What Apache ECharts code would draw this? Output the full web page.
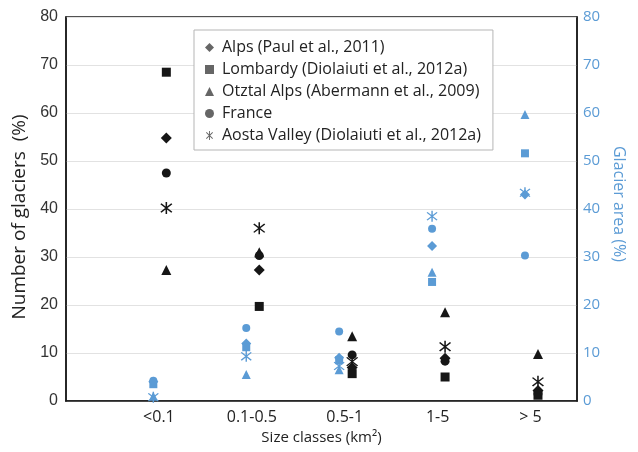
<!DOCTYPE html>
<html>
<head>
<meta charset="utf-8">
<script src="https://cdn.jsdelivr.net/npm/echarts@6/dist/echarts.min.js"></script>
<style>
  html, body { margin: 0; padding: 0; background: #fff; }
  #chart { width: 638px; height: 452px; }
</style>
</head>
<body>
<div id="chart"></div>
<script>
// Size classes (km²)
const categories = ['<0.1', '0.1-0.5', '0.5-1', '1-5', '> 5'];

// Number of glaciers (%) per size class
const alpsCount     = [54.8, 27.3, 7.0, 8.9, 2.2];
const lombardyCount = [68.5, 19.7, 5.7, 5.0, 1.2];
const otztalCount   = [27.3, 31.0, 13.5, 18.5, 9.8];
const franceCount   = [47.5, 30.3, 9.6, 8.3, 1.5];
const aostaCount    = [40.2, 36.0, 8.2, 11.3, 4.0];

// Glacier area (%) per size class
const alpsArea     = [4.0, 12.0, 9.0, 32.3, 43.0];
const lombardyArea = [3.5, 11.2, 8.5, 24.8, 51.6];
const otztalArea   = [1.0, 5.5, 6.5, 26.8, 59.7];
const franceArea   = [4.2, 15.2, 14.5, 35.9, 30.3];
const aostaArea    = [0.8, 9.3, 7.3, 38.5, 43.4];

const legendNames = [
  'Alps (Paul et al., 2011)',
  'Lombardy (Diolaiuti et al., 2012a)',
  'Otztal Alps (Abermann et al., 2009)',
  'France',
  'Aosta Valley (Diolaiuti et al., 2012a)'
];

// six-armed asterisk drawn as three filled bars
const asterisk = 'path://M-1,-10L1,-10L1,10L-1,10Z' +
  'M6.36,7.78L-7.78,-6.36L-6.36,-7.78L7.78,6.36Z' +
  'M7.78,-6.36L-6.36,7.78L-7.78,6.36L6.36,-7.78Z';

const symbols = ['diamond', 'rect', 'triangle', 'circle', asterisk];
const symbolSizes = [11, 9, 10, 9, 12];

const countSets = [alpsCount, lombardyCount, otztalCount, franceCount, aostaCount];
const areaSets = [alpsArea, lombardyArea, otztalArea, franceArea, aostaArea];

const BLACK = '#161616';
const BLUE = '#5b9bd5';
const countShift = 0.08;
const areaShift = -0.06;

function points(values, shift) {
  return values.map((v, i) => [i + 1 + shift, v]);
}

const series = [];
areaSets.forEach((vals, k) => {
  series.push({
    name: legendNames[k] + ' · area',
    type: 'scatter',
    yAxisIndex: 1,
    symbol: symbols[k],
    symbolSize: symbolSizes[k] - 1,
    itemStyle: { color: BLUE, opacity: 1 },
    data: points(vals, areaShift),
    z: 2
  });
});
countSets.forEach((vals, k) => {
  series.push({
    name: legendNames[k],
    type: 'scatter',
    yAxisIndex: 0,
    symbol: symbols[k],
    symbolSize: symbolSizes[k],
    itemStyle: { color: BLACK, opacity: 1 },
    data: points(vals, countShift),
    z: 3
  });
});

const chart = echarts.init(document.getElementById('chart'), null, { renderer: 'canvas' });
chart.setOption({
  animation: false,
  backgroundColor: '#fff',
  grid: {
    left: 66, right: 61, top: 17, bottom: 51,
    show: true, borderColor: '#1a1a1a', borderWidth: 1.5
  },
  legend: {
    data: legendNames,
    orient: 'vertical',
    left: 194, top: 30,
    padding: [9, 12, 6, 11],
    itemGap: 5,
    itemWidth: 9, itemHeight: 9,
    backgroundColor: '#fff',
    borderColor: '#b5b5b5', borderWidth: 1,
    itemStyle: { color: '#666' },
    textStyle: { fontFamily: 'Open Sans', fontSize: 16, color: '#222', lineHeight: 17, padding: [0, 0, 0, 3] }
  },
  xAxis: {
    type: 'value',
    min: 0, max: 5.5, interval: 1,
    name: 'Size classes (km²)',
    nameLocation: 'middle',
    nameGap: 29,
    nameTextStyle: { fontFamily: 'Open Sans', fontSize: 15, color: '#222' },
    axisLine: { lineStyle: { color: '#1a1a1a', width: 1.5 } },
    axisTick: { show: false },
    splitLine: { show: false },
    axisLabel: {
      fontFamily: 'Open Sans', fontSize: 16, color: '#222', margin: 8,
      showMaxLabel: false,
      formatter: v => (Number.isInteger(v) && v >= 1 && v <= 5) ? categories[v - 1] : ''
    }
  },
  yAxis: [
    {
      type: 'value', min: 0, max: 80, interval: 10,
      position: 'left',
      name: 'Number of glaciers  (%)',
      nameLocation: 'middle',
      nameGap: 34,
      nameTextStyle: { fontFamily: 'Open Sans', fontSize: 19, color: '#222', padding: [0, 16, 0, 0] },
      axisLine: { show: true, lineStyle: { color: '#1a1a1a', width: 1.5 } },
      axisTick: { show: false },
      splitLine: { lineStyle: { color: '#e2e2e2', width: 1 } },
      axisLabel: { fontFamily: 'Liberation Sans', fontSize: 16, color: '#333', margin: 8 }
    },
    {
      type: 'value', min: 0, max: 80, interval: 10,
      position: 'right',
      name: 'Glacier area (%)',
      nameLocation: 'middle',
      nameRotate: -90,
      nameGap: 33,
      nameTextStyle: { fontFamily: 'Open Sans', fontSize: 16, color: BLUE, padding: [0, 10, 0, 0] },
      axisLine: { show: true, lineStyle: { color: '#1a1a1a', width: 1.5 } },
      axisTick: { show: false },
      splitLine: { show: false },
      axisLabel: { fontFamily: 'Open Sans', fontSize: 15, color: BLUE, margin: 6 }
    }
  ],
  series: series
});
</script>
</body>
</html>
